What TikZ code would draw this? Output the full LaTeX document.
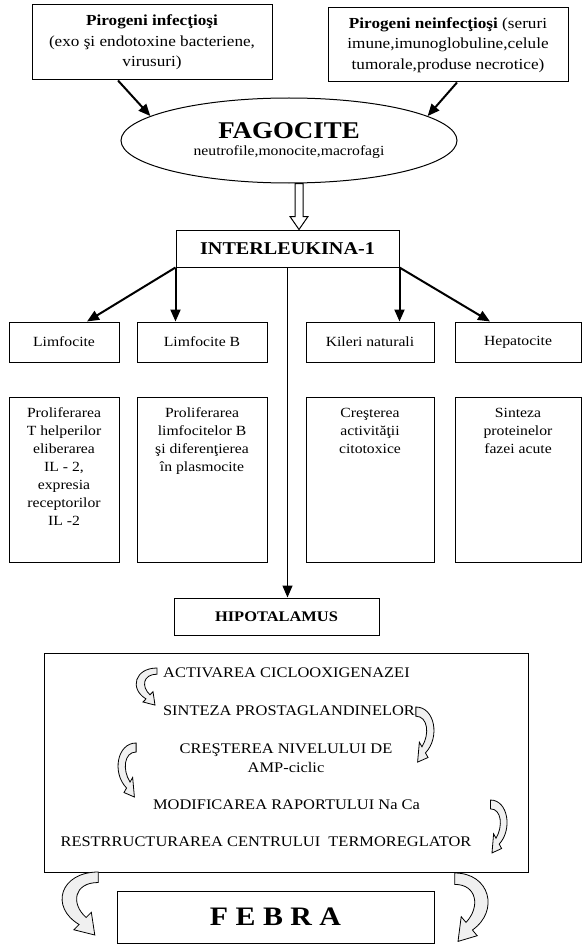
\documentclass[tikz,border=0pt]{standalone}
\usepackage{fontspec}
\setmainfont{Liberation Serif}[FakeStretch=1.12]
\usetikzlibrary{shapes.geometric,arrows.meta,positioning,calc}

\tikzset{every picture/.style={line width=0.75pt}}
\tikzset{
  box/.style={draw, rectangle, inner sep=0.75pt, align=center},
  topbox/.style={box, font=\fontsize{11.5}{15.5}\selectfont},
  cellbox/.style={box, font=\fontsize{10.5}{13}\selectfont},
  celltext/.style={inner sep=0.75pt, align=center, font=\fontsize{10.5}{13.5}\selectfont},
  stagetext/.style={inner sep=0.75pt, align=center, font=\fontsize{11}{14}\selectfont},
  arr/.style={line width=1.5pt, -{Triangle[length=9pt,width=7.5pt]}},
  curlfill/.style={draw, line width=0.6pt, fill=gray!12},
  curl/.pic={\path[curlfill] (22,0) .. controls (0,0) and (-6,20) .. (11,30) -- (8,33) -- (20,36) -- (18,23) -- (15,26) .. controls (6,18) and (8,6) .. (22,6) -- cycle;}
}

\begin{document}
\begin{tikzpicture}[x=0.75pt,y=0.75pt,yscale=-1,xscale=1]
\useasboundingbox (0,0) rectangle (582,945);
%Shape: Rectangle (pirogeni)
\node[topbox, minimum width=180pt, minimum height=56.25pt] (inf) at (152,42.5) {\textbf{Pirogeni infecţioşi}\\(exo şi endotoxine bacteriene,\\virusuri)};
\node[topbox, minimum width=180pt, minimum height=55.5pt] (ninf) at (448,45) {\textbf{Pirogeni neinfecţioşi} (seruri\\imune,imunoglobuline,celule\\tumorale,produse necrotice)};
%Shape: Ellipse
\node[draw, ellipse, minimum width=252pt, minimum height=63.75pt, inner sep=0pt, align=center] (fag) at (289,140.5) {{\fontsize{18}{20}\selectfont\bfseries FAGOCITE}\\[1pt]{\fontsize{10.5}{12}\selectfont neutrofile,monocite,macrofagi}};
%Straight Lines
\draw[arr] ([xshift=-25.5pt]inf.south) -- (fag.170);
\draw[arr] ([xshift=6.75pt]ninf.south) -- (fag.10);
%Shape: Rectangle (interleukina)
\node[box, minimum width=167.25pt, minimum height=27.75pt, font=\fontsize{13.5}{16}\selectfont\bfseries] (il) at (287.5,248.5) {INTERLEUKINA-1};
%Shape: Hollow arrow
\coordinate (ha) at ([xshift=7.5pt]fag.south);
\coordinate (hb) at (ha |- il.north);
\draw[fill=white] ($(ha)+(-4,0)$) -- ($(hb)+(-4,-13)$) -- ($(hb)+(-9,-13)$) -- (hb) -- ($(hb)+(9,-13)$) -- ($(hb)+(4,-13)$) -- ($(ha)+(4,0)$) -- cycle;
%Shape: Rectangle (celule)
\node[cellbox, minimum width=82.5pt, minimum height=30pt] (lf) at (64,342) {Limfocite};
\node[cellbox, minimum width=97.5pt, minimum height=30pt] (lb) at (202,342) {Limfocite B};
\node[cellbox, minimum width=96pt, minimum height=30pt] (kn) at (370,342) {Kileri naturali};
\node[cellbox, minimum width=94.5pt, minimum height=30pt] (hp) at (518,342) {Hepatocite};
%Shape: Rectangle (efecte)
\node[box, minimum width=82.5pt, minimum height=123.75pt] (ef1) at (64,479.5) {};
\node[box, minimum width=97.5pt, minimum height=123.75pt] (ef2) at (202,479.5) {};
\node[box, minimum width=96pt, minimum height=123.75pt] (ef3) at (370,479.5) {};
\node[box, minimum width=94.5pt, minimum height=123.75pt] (ef4) at (518,479.5) {};
% Text Node
\node[celltext, below=7.5pt of ef1.north] (tx1) {Proliferarea\\T helperilor\\eliberarea\\IL - 2,\\expresia\\receptorilor\\IL -2};
\node[celltext, below=7.5pt of ef2.north] (tx2) {Proliferarea\\limfocitelor B\\şi diferenţierea\\în plasmocite};
\node[celltext, below=7.5pt of ef3.north] (tx3) {Creşterea\\activităţii\\citotoxice};
\node[celltext, below=7.5pt of ef4.north] (tx4) {Sinteza\\proteinelor\\fazei acute};
%Shape: Rectangle (hipotalamus)
\node[box, minimum width=153.75pt, minimum height=27.75pt, font=\fontsize{11}{13}\selectfont\bfseries] (hip) at (276.5,616.5) {HIPOTALAMUS};
%Straight Lines
\draw[arr] (il.south west) -- ([xshift=17.25pt]lf.north);
\draw[arr] (il.south west) -- (il.south west |- lb.north);
\draw[arr, line width=1pt] (il.south) -- (il.south |- hip.north);
\draw[arr] (il.south east) -- (il.south east |- kn.north);
\draw[arr] (il.south east) -- ([xshift=-21pt]hp.north);
%Shape: Rectangle (mecanism)
\node[box, minimum width=363pt, minimum height=164.25pt] (proc) at (286,762.5) {};
% Text Node
\node[stagetext] (st1) at (286.5,673) {ACTIVAREA CICLOOXIGENAZEI};
\node[stagetext] (st2) at (289,711) {SINTEZA PROSTAGLANDINELOR};
\node[stagetext] (st3) at (286,758) {CREŞTEREA NIVELULUI DE\\AMP-ciclic};
\node[stagetext] (st4) at (286.5,805) {MODIFICAREA RAPORTULUI Na Ca};
\node[stagetext] (st5) at (266,842) {RESTRRUCTURAREA CENTRULUI\ \ TERMOREGLATOR};
%Shape: Curved arrows
\pic[yscale=-1.03] at (135,668) {curl};
\pic[xscale=-0.87, yscale=-1.53] at (435,707) {curl};
\pic[xscale=0.87, yscale=-1.5] at (117,743) {curl};
\pic[xscale=-0.8, yscale=-1.47] at (508,800) {curl};
\pic[xscale=1.74, yscale=-1.75] at (60,872) {curl};
\pic[xscale=-1.6, yscale=-1.9] at (490,873) {curl};
%Shape: Rectangle (febra)
\node[box, minimum width=237.75pt, minimum height=39pt, font=\fontsize{20}{22}\selectfont\bfseries] (feb) at (275.5,917) {F E B R A};
\end{tikzpicture}
\end{document}
